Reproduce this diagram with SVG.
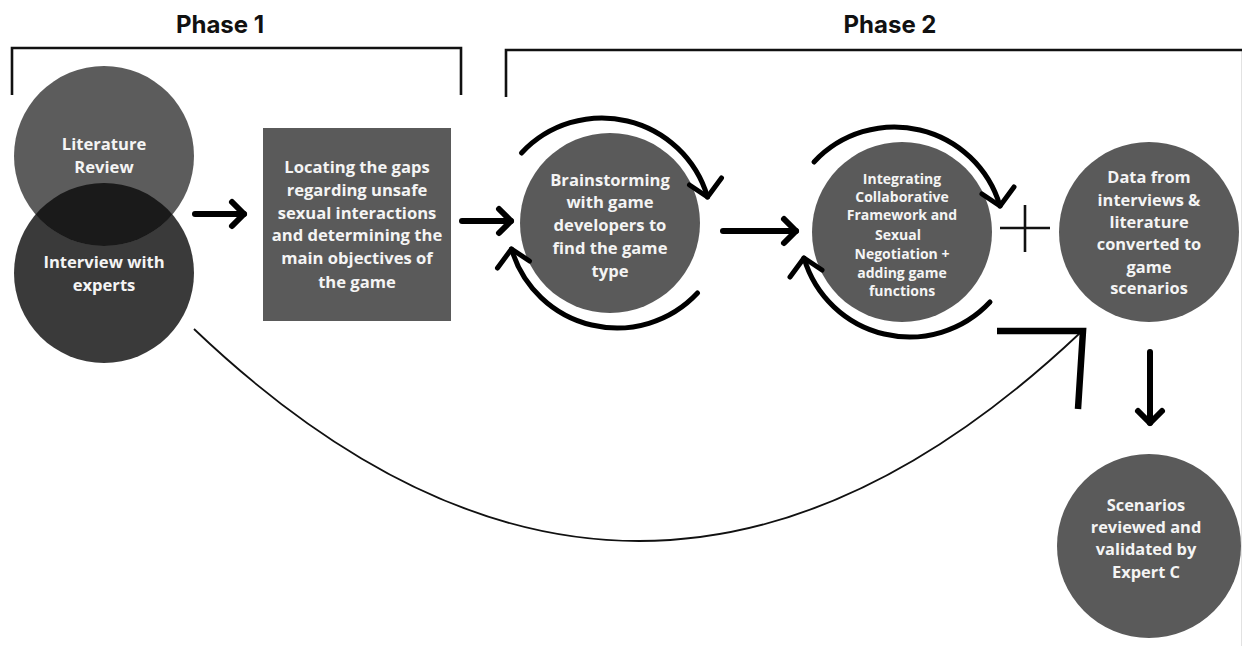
<svg xmlns="http://www.w3.org/2000/svg" width="1242" height="646" viewBox="0 0 1242 646">
  <style>
    .title { font-family: Inter, "Open Sans", "Liberation Sans", sans-serif; font-weight: 700; font-size: 24px; fill: #111; text-anchor: middle; }
    .label { font-family: "Open Sans", "Liberation Sans", sans-serif; font-weight: 700; fill: #f4f4f4; text-anchor: middle; }
    .fs16 { font-size: 16.6px; }
    .fs15 { font-size: 16.4px; }
    .fs14 { font-size: 14px; }
    .bracket { fill: none; stroke: #111; stroke-width: 2.6; }
    .thick { fill: none; stroke: #000; stroke-width: 6; stroke-linecap: round; stroke-linejoin: round; }
    .cyc { fill: none; stroke: #000; stroke-width: 5; stroke-linecap: round; stroke-linejoin: round; }
    .thin { fill: none; stroke: #111; stroke-width: 1.8; }
    .node { fill: #5a5a5a; }
  </style>
  <defs>
    <!-- chevron arrowhead for the straight arrows -->
    <marker id="chev" markerUnits="userSpaceOnUse" viewBox="-20 -20 30 40" markerWidth="30" markerHeight="40" refX="0" refY="0" orient="auto" overflow="visible">
      <path d="M-12,-12 L0,0 L-12,12" fill="none" stroke="#000" stroke-width="6" stroke-linecap="round" stroke-linejoin="round"/>
    </marker>
    <!-- one half of the iteration loop drawn around a round node (centre at 0,0) -->
    <g id="loop-half" class="cyc">
      <path d="M-88,-70 A110,110 0 0,1 98,-26"/>
      <path d="M80,-38 L98,-26 L112,-45"/>
    </g>
    <clipPath id="clip-lit">
      <circle cx="104" cy="156" r="90"/>
    </clipPath>
  </defs>

  <rect width="1242" height="646" fill="#fff"/>
  <line x1="1241.5" y1="50" x2="1241.5" y2="646" stroke="#e2e2e2" stroke-width="1"/>

  <!-- phase headings and brackets -->
  <g id="phase1">
    <text class="title" x="220" y="33">Phase 1</text>
    <path class="bracket" d="M12,95 V48 H461 V95"/>
  </g>
  <g id="phase2">
    <text class="title" x="890" y="33">Phase 2</text>
    <path class="bracket" d="M506,97 V50 H1242"/>
  </g>

  <!-- sources: literature and expert interviews -->
  <g id="interview">
    <circle cx="104" cy="273" r="90" fill="#3a3a3a"/>
  </g>
  <g id="literature">
    <circle cx="104" cy="156" r="90" fill="#5c5c5c"/>
    <circle cx="104" cy="273" r="90" fill="#1a1a1a" clip-path="url(#clip-lit)"/>
    <text class="label fs16" x="104" y="150">Literature</text>
    <text class="label fs16" x="104" y="173">Review</text>
  </g>
  <g id="interview-label">
    <text class="label fs16" x="104" y="268">Interview with</text>
    <text class="label fs16" x="104" y="291">experts</text>
  </g>

  <g id="gaps">
    <rect class="node" x="263" y="128" width="188" height="193"/>
    <text class="label fs16" x="357" y="173">Locating the gaps</text>
    <text class="label fs16" x="357" y="196">regarding unsafe</text>
    <text class="label fs16" x="357" y="219">sexual interactions</text>
    <text class="label fs16" x="357" y="241">and determining the</text>
    <text class="label fs16" x="357" y="264">main objectives of</text>
    <text class="label fs16" x="357" y="288">the game</text>
  </g>

  <g id="brainstorm">
    <circle class="node" cx="610" cy="223" r="90"/>
    <text class="label fs16" x="610" y="186">Brainstorming</text>
    <text class="label fs16" x="610" y="208">with game</text>
    <text class="label fs16" x="610" y="231">developers to</text>
    <text class="label fs16" x="610" y="254">find the game</text>
    <text class="label fs16" x="610" y="277">type</text>
  </g>

  <g id="integrating">
    <circle class="node" cx="902" cy="232" r="90"/>
    <text class="label fs14" x="902" y="184">Integrating</text>
    <text class="label fs14" x="902" y="202">Collaborative</text>
    <text class="label fs14" x="902" y="220">Framework and</text>
    <text class="label fs14" x="898" y="240">Sexual</text>
    <text class="label fs14" x="902" y="259">Negotiation +</text>
    <text class="label fs14" x="902" y="278">adding game</text>
    <text class="label fs14" x="902" y="296">functions</text>
  </g>

  <g id="scenarios-data">
    <circle class="node" cx="1149" cy="232" r="90"/>
    <text class="label fs15" x="1149" y="183">Data from</text>
    <text class="label fs15" x="1149" y="206">interviews &amp;</text>
    <text class="label fs15" x="1149" y="228">literature</text>
    <text class="label fs15" x="1149" y="250">converted to</text>
    <text class="label fs15" x="1149" y="273">game</text>
    <text class="label fs15" x="1149" y="294">scenarios</text>
  </g>

  <g id="validation">
    <circle class="node" cx="1149" cy="546" r="92"/>
    <text class="label fs15" x="1146" y="511">Scenarios</text>
    <text class="label fs15" x="1146" y="533">reviewed and</text>
    <text class="label fs15" x="1146" y="555">validated by</text>
    <text class="label fs15" x="1146" y="578">Expert C</text>
  </g>

  <!-- connectors -->
  <g id="connectors">
    <path class="thick" d="M195,214 H244" marker-end="url(#chev)"/>
    <path class="thick" d="M462,221 H511" marker-end="url(#chev)"/>
    <path class="thick" d="M723,231 H796" marker-end="url(#chev)"/>
    <path class="thick" d="M1150,352 V423" marker-end="url(#chev)"/>

    <!-- iteration loops -->
    <use href="#loop-half" transform="translate(609.5,223)"/>
    <use href="#loop-half" transform="translate(609.5,223) rotate(180)"/>
    <use href="#loop-half" transform="translate(902,232)"/>
    <use href="#loop-half" transform="translate(902,232) rotate(180)"/>

    <!-- plus joining the two inputs -->
    <path d="M1000,228 H1050 M1025,205 V252" stroke="#111" stroke-width="2.6" fill="none"/>

    <!-- long curve from the interviews to the scenario data -->
    <path class="thin" d="M194,329 Q637,751 1080,333"/>
    <path d="M997,331 H1083 L1078,409" fill="none" stroke="#000" stroke-width="6.5" stroke-linejoin="miter"/>
  </g>
</svg>
